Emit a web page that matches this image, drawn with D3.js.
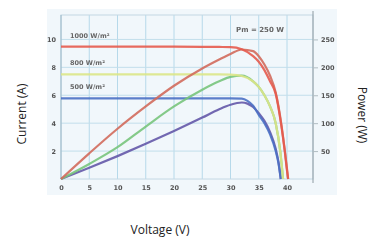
<!DOCTYPE html>
<html>
<head>
<meta charset="utf-8">
<script src="https://cdn.jsdelivr.net/npm/d3@7"></script>
<style>
  body { margin: 0; background: #fff; }
  svg { display: block; }
</style>
</head>
<body>
<svg></svg>
<script>
// I-V and P-V curves
var voltage1000 = [0, 5, 10, 15, 20, 25, 28, 30, 32, 34, 35, 36, 37, 38, 39, 39.6, 40, 40.2];
var current1000 = [9.48, 9.48, 9.48, 9.48, 9.48, 9.47, 9.46, 9.45, 9.3, 8.8, 8.4, 7.8, 7.0, 6.1, 3.8, 2.0, 0.6, 0];
var power1000   = [0, 46, 90, 130, 167, 198, 214, 224, 232, 229, 220, 205, 185, 155, 98, 52, 18, 0];

var voltage800 = [0, 5, 10, 15, 20, 25, 28, 30, 32, 34, 35, 36, 37, 38, 38.8, 39.3];
var current800 = [7.5, 7.5, 7.5, 7.5, 7.5, 7.5, 7.5, 7.48, 7.38, 7.0, 6.6, 6.0, 5.2, 4.0, 2.0, 0];
var power800   = [0, 27, 57, 94, 130, 160, 175, 183, 185, 175, 165, 150, 130, 100, 50, 0];

var voltage500 = [0, 5, 10, 15, 20, 25, 28, 30, 32, 33, 34, 35, 36, 37, 38, 38.5, 38.9];
var current500 = [5.78, 5.78, 5.78, 5.78, 5.78, 5.78, 5.78, 5.78, 5.76, 5.6, 5.25, 4.6, 4.0, 3.2, 2.0, 1.1, 0];
var power500   = [0, 20, 41, 63, 86, 110, 125, 133, 137, 135, 129, 118, 104, 84, 54, 30, 0];

var voltageTicks = [0, 5, 10, 15, 20, 25, 30, 35, 40];
var currentTicks = [2, 4, 6, 8, 10];
var powerTicks = [50, 100, 150, 200, 250];

var irradianceLabels = ["1000 W/m²", "800 W/m²", "500 W/m²"];
var peakLabel = "Pm = 250 W";

var width = 371, height = 241;
var plotLeft = 61, plotRight = 313, plotTop = 15, plotBottom = 179;

var svg = d3.select('svg')
            .attr('width', width)
            .attr('height', height);

// the source is a soft, slightly blurred scan
svg.append("defs").append("filter")
   .attr("id", "soft")
   .append("feGaussianBlur")
   .attr("stdDeviation", 0.55);

var chart = svg.append("g").attr("filter", "url(#soft)");

var xScale = d3.scaleLinear().domain([0, 44.6]).range([plotLeft, plotRight]);
var yScale = d3.scaleLinear().domain([0, 11.75]).range([plotBottom, plotTop]);
var pScale = d3.scaleLinear().domain([0, 293.75]).range([plotBottom, plotTop]);

// pale picture background
chart.append("rect")
   .attr("x", 47).attr("y", 9)
   .attr("width", 290).attr("height", 186)
   .attr("fill", "#f1f7fb");

// grid
chart.append("g")
   .selectAll("line")
   .data(voltageTicks.slice(1))
   .enter().append("line")
     .attr("x1", d => xScale(d)).attr("x2", d => xScale(d))
     .attr("y1", plotTop).attr("y2", plotBottom)
     .attr("stroke", "#b6d9ea")
     .attr("stroke-width", 1);

chart.append("g")
   .selectAll("line")
   .data(currentTicks)
   .enter().append("line")
     .attr("x1", plotLeft).attr("x2", plotRight)
     .attr("y1", d => yScale(d)).attr("y2", d => yScale(d))
     .attr("stroke", "#c2deeb")
     .attr("stroke-width", 1);

// frame
chart.append("rect")
   .attr("x", plotLeft).attr("y", plotTop)
   .attr("width", plotRight - plotLeft).attr("height", plotBottom - plotTop)
   .attr("fill", "none")
   .attr("stroke", "#c4d8e4");
chart.append("line")
   .attr("x1", plotRight).attr("x2", plotRight)
   .attr("y1", plotTop - 4).attr("y2", plotBottom + 4)
   .attr("stroke", "#8e9ba2");
chart.append("line")
   .attr("x1", plotLeft).attr("x2", plotLeft)
   .attr("y1", plotTop).attr("y2", plotBottom)
   .attr("stroke", "#9ab8c8");

// axes, drawn with d3 and then restyled to look like the scan
var tickFont = '"DejaVu Sans", sans-serif';

var xAxis = chart.append("g")
   .attr("transform", `translate(0,${plotBottom})`)
   .call(d3.axisBottom(xScale).tickValues(voltageTicks).tickSize(0).tickPadding(6));
var yAxis = chart.append("g")
   .attr("transform", `translate(${plotLeft - 3},0)`)
   .call(d3.axisLeft(yScale).tickValues(currentTicks).tickSize(0).tickPadding(2));
var pAxis = chart.append("g")
   .attr("transform", `translate(${plotRight},0)`)
   .call(d3.axisRight(pScale).tickValues(powerTicks).tickSize(5).tickPadding(3));

[xAxis, yAxis, pAxis].forEach(function(g) {
  g.select(".domain").remove();
  g.selectAll("text")
   .style("font-family", tickFont)
   .style("font-size", "6.5px")
   .style("font-weight", "bold")
   .attr("fill", "#555");
  g.selectAll(".tick line").attr("stroke", "#b0bcc2");
});

// curves
var line = d3.line()
             .x(d => xScale(d[0]))
             .y(d => d[1])
             .curve(d3.curveMonotoneX);

var curves = [
  { v: voltage500, y: power500.map(p => pScale(p)), color: "#6458a8" },
  { v: voltage500, y: current500.map(c => yScale(c)), color: "#4b70c4" },
  { v: voltage800, y: power800.map(p => pScale(p)), color: "#78c47c" },
  { v: voltage800, y: current800.map(c => yScale(c)), color: "#dbe688" },
  { v: voltage1000, y: power1000.map(p => pScale(p)), color: "#d26a5c" },
  { v: voltage1000, y: current1000.map(c => yScale(c)), color: "#e65a4c" }
];

chart.append("g")
   .selectAll("path")
   .data(curves)
   .enter().append("path")
     .attr("d", c => line(c.v.map((v, i) => [v, c.y[i]])))
     .attr("fill", "none")
     .attr("stroke", c => c.color)
     .attr("stroke-width", 2.2)
     .attr("stroke-opacity", 0.9);

// irradiance labels above their current lines
var labelLevels = [current1000[0], current800[0], current500[0]];
chart.append("g")
   .selectAll("text")
   .data(irradianceLabels)
   .enter().append("text")
     .attr("x", 70)
     .attr("y", (d, i) => yScale(labelLevels[i]) - 9)
     .style("font-family", tickFont)
     .style("font-size", "6.5px")
     .style("font-weight", "bold")
     .attr("fill", "#666")
     .text(d => d);

chart.append("text")
   .attr("x", 260)
   .attr("y", 32)
   .style("text-anchor", "middle")
   .style("font-family", tickFont)
   .style("font-size", "7px")
   .style("font-weight", "bold")
   .attr("fill", "#666")
   .text(peakLabel);

// axis titles
var titleFont = '"Open Sans", sans-serif';

svg.append("text")
   .attr("transform", "translate(26,114) rotate(-90)")
   .style("text-anchor", "middle")
   .style("font-family", titleFont)
   .style("font-size", "12px")
   .attr("fill", "#222")
   .text("Current (A)");

svg.append("text")
   .attr("transform", "translate(358,115) rotate(90)")
   .style("text-anchor", "middle")
   .style("font-family", titleFont)
   .style("font-size", "12px")
   .attr("fill", "#222")
   .text("Power (W)");

svg.append("text")
   .attr("x", 160)
   .attr("y", 234)
   .style("text-anchor", "middle")
   .style("font-family", titleFont)
   .style("font-size", "12px")
   .attr("fill", "#222")
   .text("Voltage (V)");
</script>
</body>
</html>
